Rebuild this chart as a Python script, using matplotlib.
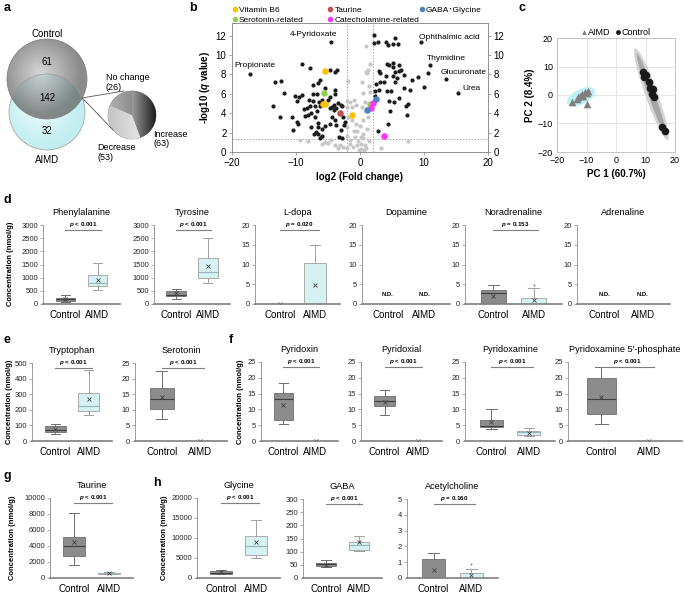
import numpy as np
import matplotlib.pyplot as plt
from matplotlib.colors import LinearSegmentedColormap
from matplotlib.lines import Line2D
from matplotlib.patches import Circle, Ellipse

plt.rcParams["font.family"] = ["Liberation Sans", "Noto Sans CJK JP", "DejaVu Sans"]
plt.rcParams["mathtext.fontset"] = "custom"
plt.rcParams["mathtext.rm"] = "Liberation Sans"
plt.rcParams["mathtext.it"] = "Liberation Sans:italic"
plt.rcParams["mathtext.bf"] = "Liberation Sans:bold"
plt.rcParams["mathtext.bfit"] = "Liberation Sans:bold:italic"

# ---- a: Venn + pie ----
venn_control_only = 61
venn_shared = 142
venn_aimd_only = 32
pie_labels = ["Increase", "Decrease", "No change"]
pie_counts = [63, 53, 26]

# ---- b: volcano (log2 FC, -log10 q) ----
black_x = [-9.0, -7.8, -4.7, -3.9, -3.6, -13.3, -12.4, -6.3, -6.6, -11.9, -7.3, -5.5, -3.9, -3.9,
           -10.2, -9.5, -9.0, -9.8, -7.3, -6.7, -8.0, -7.3, -6.4, -5.9, -5.0, -4.7, -13.6, -10.6,
           -9.8, -9.7, -10.5, -8.6, -8.1, -7.6, -7.0, -6.6, -7.8, -8.3, -8.7, -7.1, -6.7, -6.3,
           -4.4, -4.0, -3.4, -3.0, -4.7, -4.1, -3.7, -2.8, -4.4, -3.9, -2.7, -2.4, -7.7, -6.6,
           -6.0, -6.9, -5.5, -4.7, -3.7, -2.9, -2.5, -7.2, -6.6, -5.9, -6.3, -3.3, -2.8, -12.5,
           -17.2, -4.6,
           2.2, 2.2, 2.8, 4.0, 4.3, 5.2, 5.9, 5.5, 4.2, 4.5, 5.1, 5.2, 6.1, 6.4, 5.5, 6.1, 2.9,
           3.1, 4.1, 5.1, 5.8, 6.9, 8.1, 9.1, 10.6, 10.0, 3.1, 2.5, 3.8, 5.5, 3.0, 2.3, 4.2, 4.9,
           6.8, 7.8, 2.3, 4.5, 5.3, 6.1, 7.2, 7.5, 4.7, 7.4, 4.4, 2.8,
           9.6, 11.0, 13.4, 15.3]
black_y = [9.1, 8.7, 8.5, 8.2, 8.5, 7.2, 7.3, 7.4, 7.1, 6.1, 6.9, 6.6, 6.4, 6.0,
           5.8, 5.7, 5.9, 5.3, 6.0, 6.0, 5.4, 5.3, 5.2, 5.4, 5.4, 5.7, 4.7, 3.6,
           3.1, 2.9, 2.3, 3.7, 3.8, 4.0, 3.6, 3.0, 4.7, 4.5, 4.4, 4.7, 4.2, 4.7,
           4.6, 4.8, 5.1, 4.8, 4.5, 4.3, 4.5, 4.7, 3.6, 3.3, 3.6, 3.1, 2.6, 2.6,
           2.4, 2.1, 2.7, 2.9, 2.8, 2.3, 2.8, 1.9, 1.9, 1.7, 1.4, 1.55, 1.4, 3.6,
           8.0, 11.3,
           12.1, 11.2, 11.3, 11.3, 11.0, 11.1, 11.1, 11.8, 9.1, 9.0, 9.2, 8.8, 9.0, 8.5, 8.2, 8.3, 8.3,
           8.1, 7.8, 7.8, 7.6, 7.9, 7.4, 7.7, 8.1, 6.7, 7.2, 7.0, 7.2, 7.2, 6.4, 6.3, 6.3, 6.3,
           6.6, 6.4, 5.8, 5.3, 5.2, 5.6, 4.7, 4.9, 4.2, 3.8, 2.9, 2.2,
           11.3, 9.0, 7.5, 6.1]
gray_x = [-9.4, -8.1, -5.0, -3.9, -6.0, -5.5, -4.5, -3.2, -2.7, -1.6, -1.1, -2.1, -3.4, -2.1,
          -1.6, -0.9, -2.0, -1.3, -0.6, -1.9, -1.3, -0.7, -2.0, -0.9, -2.1, -0.8, -1.8, 0.3,
          1.0, 1.3, 1.15, 1.4, 0.5, 1.6, 0.8, 0.3, 0.5, 0.0, -0.5, 0.4, -0.3, 0.5, -0.5, 0.2,
          0.8, 1.4, 3.3, 7.5, 1.5, 0.9, 0.1, -0.2, 0.6, 1.0, -1.5, 0.2, 1.1, 1.3]
gray_y = [1.2, 1.1, 0.9, 0.7, 0.8, 1.0, 1.2, 0.7, 0.5, 0.8, 0.5, 0.4, 0.4, 5.3,
          5.2, 5.4, 4.6, 4.6, 4.8, 3.6, 3.3, 2.9, 2.6, 2.2, 1.7, 1.55, 7.3, 7.2,
          10.9, 8.5, 8.1, 6.8, 6.1, 6.2, 5.2, 4.6, 3.3, 2.7, 2.2, 1.9, 1.1, 1.4, 0.7, 0.3,
          0.7, 1.1, 0.45, 1.1, 9.1, 8.2, 0.8, 0.2, 0.2, 0.4, 1.2, 1.5, 2.4, 3.6]
b6_x, b6_y = [-5.5, -5.8, -5.4, -1.3], [8.3, 5.0, 5.0, 3.8]
taurine_x, taurine_y = [-3.1], [4.0]
gaba_x, gaba_y = [2.5, 1.1], [5.5, 4.3]
sero_x, sero_y = [-5.7, 1.6], [6.1, 4.9]
cat_x, cat_y = [2.1, 1.7, 3.7], [5.1, 4.5, 1.7]
named = ["4-Pyridoxate", "Propionate", "Ophthalmic acid", "Thymidine", "Glucuronate", "Urea"]
named_x = [-11.0, -19.7, 9.2, 10.4, 12.6, 16.0]
named_y = [12.1, 8.9, 11.8, 9.6, 8.2, 6.5]

# ---- c: PCA scores ----
pca_aimd_x = [-15.0, -9.9, -12.8, -11.6, -10.5, -9.4, -11.3, -12.2, -10.0, -13.3]
pca_aimd_y = [-2.4, -3.0, -0.8, 0.3, 1.2, 1.5, -0.3, -0.2, 0.8, -1.3]
pca_ctrl_x = [9.3, 9.6, 11.2, 11.5, 12.6, 12.1, 13.0, 15.5, 16.6, 10.0]
pca_ctrl_y = [8.2, 6.4, 4.7, 2.3, 2.0, 0.3, -0.8, -11.1, -12.5, 7.0]

# ---- d-h: box stats (low whisker, Q1, median, Q3, high whisker, mean) ----
zero = [0, 0, 0, 0, 0, 0]
phe_ctrl, phe_aimd = [80, 130, 200, 245, 330, 200], [520, 690, 780, 1095, 1560, 930]
tyr_ctrl, tyr_aimd = [205, 295, 350, 485, 560, 420], [780, 990, 1220, 1730, 2515, 1435]
ldopa_ctrl, ldopa_aimd = zero, [0, 0, 0, 10.4, 14.9, 4.7]
nor_ctrl, nor_aimd = [0, 0, 2.7, 3.5, 4.7, 2.0], [0, 0, 0, 1.6, 4.1, 0.9]
nor_aimd_out = [4.7]
trp_ctrl, trp_aimd = [47, 58, 73, 94, 112, 79], [165, 192, 222, 310, 458, 272]
ser_ctrl, ser_aimd = [7.2, 10.4, 13.6, 17.0, 22.3, 14.1], zero
pdxin_ctrl, pdxin_aimd = [5.5, 6.8, 13.2, 15.1, 18.3, 11.4], zero
pdxal_ctrl, pdxal_aimd = [8.2, 11.1, 12.7, 14.2, 16.2, 12.5], zero
pdxam_ctrl, pdxam_aimd = [3.9, 4.3, 4.8, 6.5, 10.0, 5.9], [1.7, 2.0, 2.7, 3.1, 4.05, 2.4]
pmp_ctrl, pmp_aimd = [5.3, 8.7, 13.3, 19.9, 23.4, 14.0], zero
tau_ctrl, tau_aimd = [1600, 2770, 4030, 5160, 8110, 4460], [470, 540, 590, 650, 720, 600]
gly_ctrl, gly_aimd = [900, 1100, 1350, 1750, 2100, 1400], [5040, 5720, 8060, 10500, 14530, 9070]
gaba_ctrl, gaba_aimd = [42, 46, 52, 57, 67, 51], [102, 108, 125, 135, 159, 137]
gaba_aimd_out = [280]
ach_ctrl, ach_aimd = [0, 0, 0, 1.2, 1.6, 0.5], [0, 0, 0, 0.32, 0.6, 0.17]
ach_aimd_out = [0.87]
groups = ["Control", "AIMD"]

W, H = 685, 594
fig = plt.figure(figsize=(W / 100, H / 100), dpi=100)


def box(x0, y0, x1, y1):
    """pixel rect (top-left origin) -> figure fraction rect"""
    return [x0 / W, 1 - y1 / H, (x1 - x0) / W, (y1 - y0) / H]


def grad_fill(ax, patch, extent, values, colors, alpha=1.0, z=1):
    cmap = LinearSegmentedColormap.from_list("g", colors)
    im = ax.imshow(values, extent=extent, cmap=cmap, alpha=alpha, zorder=z, aspect="auto",
                   interpolation="bilinear", vmin=0, vmax=1, origin="lower")
    im.set_clip_path(patch)


# ---------------- panel a ----------------
ax_a = fig.add_axes(box(0, 15, 190, 175))
yy, xx = np.mgrid[-1:1:200j, -1:1:200j]
radial = np.clip(np.sqrt((xx + 0.15) ** 2 + (yy - 0.15) ** 2), 0, 1)

c_aimd = Circle((47, 63), 38, facecolor="none", edgecolor="#9a9a9a", lw=0.5, zorder=3)
ax_a.add_patch(c_aimd)
grad_fill(ax_a, c_aimd, [9, 85, 25, 101], radial, ["#f2fdfd", "#c2eef0"], z=1)
c_ctrl = Circle((47, 96), 40, facecolor="none", edgecolor="#7a7a7a", lw=0.5, zorder=3)
ax_a.add_patch(c_ctrl)
grad_fill(ax_a, c_ctrl, [7, 87, 56, 136], radial, ["#c8c8c8", "#5e5e5e"], alpha=0.72, z=2)

ax_a.text(47, 141, "Control", ha="center", va="center", fontsize=7)
ax_a.text(47, 113, str(venn_control_only), ha="center", va="center", fontsize=7, zorder=5)
ax_a.text(47, 77, str(venn_shared), ha="center", va="center", fontsize=7, zorder=5)
ax_a.text(47, 44, str(venn_aimd_only), ha="center", va="center", fontsize=7, zorder=5)
ax_a.text(47, 15, "AIMD", ha="center", va="center", fontsize=7)

wedges, _ = ax_a.pie(pie_counts, colors=["#555555", "#e6e6e6", "#a9a9a9"], startangle=90,
                     counterclock=False, center=(132, 60), radius=24,
                     wedgeprops=dict(edgecolor="#6a6a6a", linewidth=0.4))
lin = np.tile(np.linspace(0, 1, 200), (200, 1))
grad_fill(ax_a, wedges[0], [132, 156, 36, 84], lin, ["#9c9c9c", "#1c1c1c"], z=2)
grad_fill(ax_a, wedges[1], [108, 156, 36, 84], 1 - lin, ["#f4f4f4", "#c4c4c4"], z=2)
grad_fill(ax_a, wedges[2], [108, 132, 36, 84], lin, ["#b4b4b4", "#8c8c8c"], z=2)
ax_a.plot([82.3, 124], [77.1, 84], color="#555555", lw=0.6, zorder=4)
ax_a.plot([82.3, 113], [77.1, 45], color="#555555", lw=0.6, zorder=4)
ax_a.text(106, 92.5, f"{pie_labels[2]}\n({pie_counts[2]})", ha="left", va="center",
          fontsize=6.5, linespacing=1.05)
ax_a.text(153, 36, f"{pie_labels[0]}\n({pie_counts[0]})", ha="left", va="center",
          fontsize=6.5, linespacing=1.05)
ax_a.text(97, 22.5, f"{pie_labels[1]}\n({pie_counts[1]})", ha="left", va="center",
          fontsize=6.5, linespacing=1.05)
ax_a.set_xlim(0, 190)
ax_a.set_ylim(0, 160)
ax_a.set_aspect("auto")
ax_a.axis("off")

# ---------------- panel b ----------------
ax_b = fig.add_axes(box(232, 23, 488, 152))
ax_b.scatter(gray_x, gray_y, s=9, c="#c6c6c6", lw=0, zorder=2)
ax_b.scatter(black_x, black_y, s=9, c="#1c1c1c", lw=0, zorder=3)
vol_groups = [("Vitamin B6", b6_x, b6_y, "#FFC000"),
              ("Serotonin-related", sero_x, sero_y, "#92D050"),
              ("Taurine", taurine_x, taurine_y, "#C0504D"),
              ("Catecholamine-related", cat_x, cat_y, "#FF33FF"),
              ("GABA\uff65Glycine", gaba_x, gaba_y, "#4F81BD")]
handles = []
for lab, gx, gy, col in vol_groups:
    ax_b.scatter(gx, gy, s=22, c=col, lw=0, zorder=4)
    handles.append(Line2D([], [], ls="none", marker="o", ms=4, mfc=col, mec="none", label=lab))
for lab, tx, ty in zip(named, named_x, named_y):
    ax_b.text(tx, ty, lab, fontsize=6, ha="left", va="center", zorder=5)
for xv in (-2, 2):
    ax_b.axvline(xv, color="#a8a8a8", lw=0.7, ls=(0, (1.5, 1.5)), zorder=1)
ax_b.axhline(1.3, color="#a8a8a8", lw=0.7, ls=(0, (1.5, 1.5)), zorder=1)
ax_b.set_xlim(-20, 20)
ax_b.set_ylim(0, 13.3)
ax_b.set_xticks([-20, -10, 0, 10, 20])
ax_b.set_yticks(range(0, 13, 2))
ax_b.tick_params(labelsize=7, length=2, width=0.5, color="#808080", right=True,
                 labelright=True, pad=2)
for sp in ax_b.spines.values():
    sp.set_color("#808080")
    sp.set_linewidth(0.6)
ax_b.set_xlabel("log2 (Fold change)", fontsize=7, fontweight="bold", labelpad=3)
ax_b.set_ylabel(r"-log10 ($\mathbfit{q}$ value)", fontsize=7, fontweight="bold", labelpad=3)
leg_kw = dict(loc="upper left", frameon=False, fontsize=6, handlelength=0.7, handletextpad=0.15,
              labelspacing=0.25, borderaxespad=0, borderpad=0)
fig.legend(handles=handles[:4], ncol=2, bbox_to_anchor=(232 / W, 1 - 6.5 / H), columnspacing=2.8,
           **leg_kw)
fig.legend(handles=handles[4:], ncol=1, bbox_to_anchor=(419 / W, 1 - 6.5 / H), **leg_kw)

# ---------------- panel c ----------------
ax_c = fig.add_axes(box(557, 38, 675, 152))
ax_c.add_patch(Ellipse((12.0, 0.3), 34, 4.2, angle=-71, facecolor="#d2d2d2", edgecolor="none", zorder=1))
ax_c.add_patch(Ellipse((12.0, 0.3), 30, 2.2, angle=-71, facecolor="#a6a6a6", edgecolor="none", zorder=1))
ax_c.add_patch(Ellipse((-11.8, -0.6), 10.5, 5.2, angle=28, facecolor="#bdeff4", edgecolor="none", zorder=1))
ax_c.scatter(pca_aimd_x, pca_aimd_y, marker="^", s=30, c="#7f7f7f", lw=0, zorder=3)
ax_c.scatter(pca_ctrl_x, pca_ctrl_y, marker="o", s=30, c="#1a1a1a", lw=0, zorder=3)
ax_c.set_xlim(-20, 20)
ax_c.set_ylim(-20, 20)
ax_c.set_xticks([-20, -10, 0, 10, 20])
ax_c.set_yticks([-20, -10, 0, 10, 20])
ax_c.grid(color="#e0e0e0", lw=0.6, zorder=0)
ax_c.set_axisbelow(True)
ax_c.tick_params(labelsize=6.5, length=0, pad=3)
for sp in ax_c.spines.values():
    sp.set_color("#bdbdbd")
    sp.set_linewidth(0.6)
ax_c.set_xlabel("PC 1 (60.7%)", fontsize=7, fontweight="bold", labelpad=3)
ax_c.set_ylabel("PC 2 (8.4%)", fontsize=7, fontweight="bold", labelpad=2)
ax_c.legend(handles=[Line2D([], [], ls="none", marker="^", ms=3.5, mfc="#7f7f7f", mec="none", label="AIMD"),
                     Line2D([], [], ls="none", marker="o", ms=3.5, mfc="#1a1a1a", mec="none", label="Control")],
            ncol=2, loc="lower center", bbox_to_anchor=(0.5, 1.0), frameon=False, fontsize=6.5,
            handlelength=0.5, handletextpad=0.15, columnspacing=0.6, borderaxespad=0.1, borderpad=0)


# ---------------- box plot panels ----------------
def box_panel(rect, title, ctrl, aimd, ymax, ystep, ptext=None, out_ctrl=(), out_aimd=(), nd=False):
    ax = fig.add_axes(box(*rect))
    ax.set_xlim(0.3, 2.7)
    ax.set_ylim(0, ymax)
    if nd:
        for xpos in (1, 2):
            ax.text(xpos, ymax * 0.125, "N.D.", ha="center", va="center", fontsize=4.3,
                    fontweight="bold")
    else:
        stats = []
        for s, fl in ((ctrl, out_ctrl), (aimd, out_aimd)):
            stats.append(dict(whislo=s[0], q1=s[1], med=s[2], q3=s[3], whishi=s[4],
                              mean=s[5], fliers=list(fl)))
        bp = ax.bxp(stats, positions=[1, 2], widths=0.62, capwidths=0.28, patch_artist=True,
                    showmeans=True, manage_ticks=False,
                    meanprops=dict(marker="x", markersize=3.2, markeredgecolor="#404040",
                                   markeredgewidth=0.6),
                    flierprops=dict(marker="o", markersize=1.4, markerfacecolor="#7f7f7f",
                                    markeredgecolor="none"))
        face = ["#8c8c8c", "#d6f1f2"]
        edge = ["#6e6e6e", "#a0a0a0"]
        med = ["#3f3f3f", "#94b6b8"]
        for i in range(2):
            bp["boxes"][i].set(facecolor=face[i], edgecolor=edge[i], linewidth=0.6)
            bp["medians"][i].set(color=med[i], linewidth=0.8)
            for ln in bp["whiskers"][2 * i:2 * i + 2] + bp["caps"][2 * i:2 * i + 2]:
                ln.set(color=edge[i], linewidth=0.7)
    if ptext:
        ax.plot([1.0, 2.1], [ymax * 0.94] * 2, color="#7f7f7f", lw=0.8, clip_on=False)
        ax.text(1.55, ymax * 0.955, ptext, ha="center", va="bottom", fontsize=4.5,
                fontweight="bold")
    ax.set_title(title, fontsize=6.6, pad=7)
    ax.set_xticks([1, 2], groups)
    ax.set_yticks(np.arange(0, ymax + ystep / 2, ystep))
    ax.tick_params(axis="x", length=0, labelsize=7, pad=4)
    ax.tick_params(axis="y", length=2, width=0.5, color="#8c8c8c", labelsize=5.5, pad=1.5,
                   labelcolor="#262626")
    ax.spines["top"].set_visible(False)
    ax.spines["right"].set_visible(False)
    ax.spines["left"].set(color="#8c8c8c", linewidth=0.6)
    ax.spines["bottom"].set(color="#7f7f7f", linewidth=1.2)
    return ax


P001 = r"$\mathbfit{p}$ < 0.001"
# d
box_panel((43, 225, 120, 304), "Phenylalanine", phe_ctrl, phe_aimd, 3000, 500, P001)
box_panel((154, 225, 230, 304), "Tyrosine", tyr_ctrl, tyr_aimd, 3000, 500, P001)
box_panel((255, 225, 340, 304), "L-dopa", ldopa_ctrl, ldopa_aimd, 20, 5, r"$\mathbfit{p}$ = 0.020")
box_panel((362, 225, 450, 304), "Dopamine", None, None, 20, 5, nd=True)
box_panel((465, 225, 562, 304), "Noradrenaline", nor_ctrl, nor_aimd, 20, 5,
          r"$\mathbfit{p}$ = 0.153", out_aimd=nor_aimd_out)
box_panel((577, 225, 670, 304), "Adrenaline", None, None, 20, 5, nd=True)
# e
box_panel((32, 363, 112, 441), "Tryptophan", trp_ctrl, trp_aimd, 500, 100, P001)
box_panel((135, 363, 227, 441), "Serotonin", ser_ctrl, ser_aimd, 25, 5, P001)
# f
box_panel((261, 362, 338, 441), "Pyridoxin", pdxin_ctrl, pdxin_aimd, 25, 5, P001)
box_panel((361, 362, 442, 441), "Pyridoxial", pdxal_ctrl, pdxal_aimd, 25, 5, P001)
box_panel((465, 362, 555, 441), "Pyridoxamine", pdxam_ctrl, pdxam_aimd, 25, 5, P001)
box_panel((568, 362, 682, 441), "Pyridoxamine 5'-phosphate", pmp_ctrl, pmp_aimd, 25, 5, P001)
# g
box_panel((50, 498, 133, 578), "Taurine", tau_ctrl, tau_aimd, 10000, 2000, P001)
# h
box_panel((197, 498, 280, 578), "Glycine", gly_ctrl, gly_aimd, 20000, 5000, P001)
box_panel((303, 499, 382, 578), "GABA", gaba_ctrl, gaba_aimd, 300, 50, P001, out_aimd=gaba_aimd_out)
box_panel((407, 499, 498, 578), "Acetylcholine", ach_ctrl, ach_aimd, 5, 1,
          r"$\mathbfit{p}$ = 0.160", out_aimd=ach_aimd_out)

for xp, yp in ((11, 264), (10, 402), (240, 402), (12, 538), (164, 538)):
    fig.text(xp / W, 1 - yp / H, "Concentration (nmol/g)", rotation=90, ha="center",
             va="center", fontsize=5.5, fontweight="bold")

for lab, xp, yp in (("a", 7, 8), ("b", 193, 8), ("c", 522, 8), ("d", 7, 200), ("e", 7, 340),
                    ("f", 231, 340), ("g", 7, 476), ("h", 157, 483)):
    fig.text(xp / W, 1 - yp / H, lab, ha="center", va="center", fontsize=9, fontweight="bold")

fig.savefig("out.png", dpi=100)
